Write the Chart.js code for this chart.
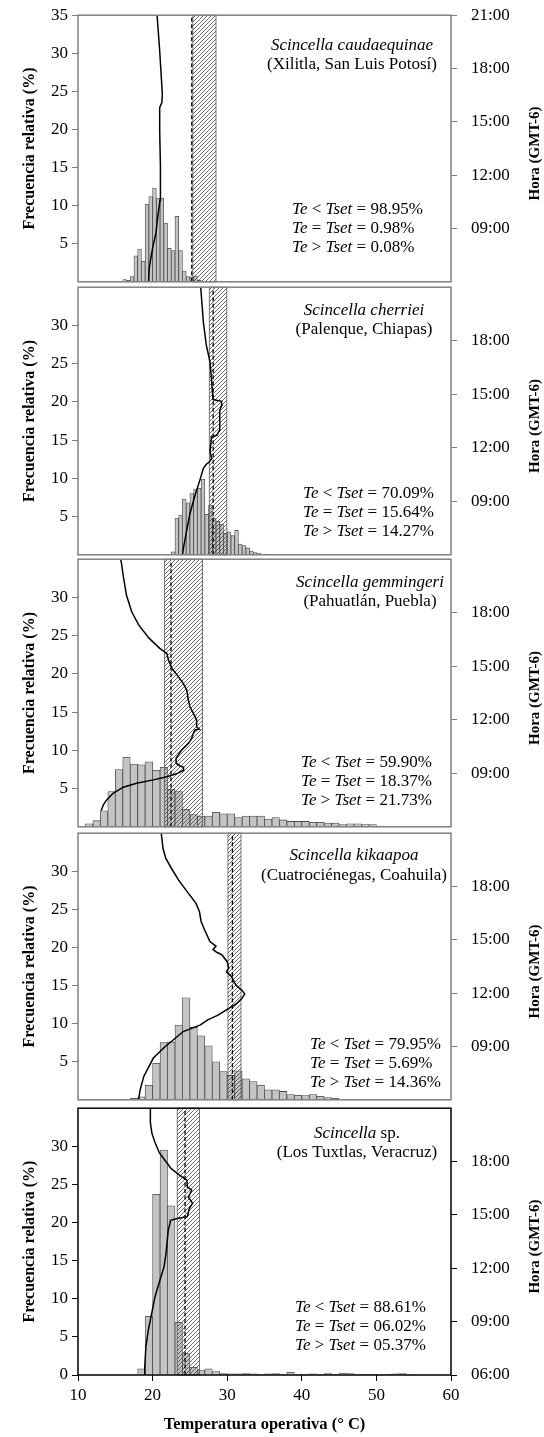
<!DOCTYPE html>
<html>
<head>
<meta charset="utf-8">
<script src="https://cdn.jsdelivr.net/npm/chart.js@4.4.0/dist/chart.umd.min.js"></script>
<style>
  body { margin: 0; background: #fff; }
  #wrap { position: relative; width: 544px; height: 1437px; overflow: hidden; }
  #wrap canvas { position: absolute; left: 0; }
</style>
</head>
<body>
<div id="wrap"></div>
<script>
// ---- data ----
const speciesNames = ['Scincella caudaequinae', 'Scincella cherriei', 'Scincella gemmingeri', 'Scincella kikaapoa', 'Scincella'];
const speciesSuffix = ['', '', '', '', ' sp.'];
const localities = ['(Xilitla, San Luis Potosí)', '(Palenque, Chiapas)', '(Pahuatlán, Puebla)', '(Cuatrociénegas, Coahuila)', '(Los Tuxtlas, Veracruz)'];
const teBelow = ['98.95%', '70.09%', '59.90%', '79.95%', '88.61%'];
const teEqual = ['0.98%', '15.64%', '18.37%', '5.69%', '06.02%'];
const teAbove = ['0.08%', '14.27%', '21.73%', '14.36%', '05.37%'];

// Tset range (hatched) and median (dashed), in deg C
const tsetLow = [25.4, 27.6, 21.6, 30.1, 23.3];
const tsetHigh = [28.5, 29.95, 26.7, 31.85, 26.3];
const tsetMedian = [25.25, 28.12, 22.47, 30.7, 24.35];

// histogram bins (left edge, deg C) and relative frequency (%)
const binWidth = [0.5, 0.5, 1, 1, 1];
const p1Bins = [16.0, 16.5, 17.0, 17.5, 18.0, 18.5, 19.0, 19.5, 20.0, 20.5, 21.0, 21.5, 22.0, 22.5, 23.0, 23.5, 24.0, 24.5, 25.0, 25.5, 26.0, 29.0];
const p1Freq = [0.3, 0.2, 0.7, 3.4, 4.3, 2.7, 10.2, 11.2, 12.3, 11.0, 11.0, 7.7, 4.4, 4.1, 8.6, 4.1, 1.4, 0.7, 0.65, 0.75, 0.2, 0.1];
const p2Bins = [22.5, 23.0, 23.5, 24.0, 24.5, 25.0, 25.5, 26.0, 26.5, 27.0, 27.5, 28.0, 28.5, 29.0, 29.5, 30.0, 30.5, 31.0, 31.5, 32.0, 32.5, 33.0, 33.5, 34.0, 34.5, 35.0, 35.5];
const p2Freq = [0.4, 4.8, 5.2, 7.3, 6.8, 8.0, 8.6, 8.7, 9.9, 5.3, 6.5, 4.8, 4.4, 4.0, 2.8, 3.0, 2.5, 3.2, 1.4, 1.2, 0.9, 0.5, 0.3, 0.15, 0.1, 0.1, 0.05];
const p3Bins = [11, 12, 13, 14, 15, 16, 17, 18, 19, 20, 21, 22, 23, 24, 25, 26, 27, 28, 29, 30, 31, 32, 33, 34, 35, 36, 37, 38, 39, 40, 41, 42, 43, 44, 45, 46, 47, 48, 49, 50];
const p3Freq = [0.4, 0.8, 2.1, 4.6, 7.5, 9.1, 8.2, 8.1, 8.5, 7.4, 7.8, 4.9, 4.6, 2.3, 1.6, 1.4, 1.4, 1.9, 1.7, 1.7, 1.2, 1.4, 1.4, 1.4, 1.0, 1.2, 0.9, 0.7, 0.7, 0.7, 0.6, 0.6, 0.5, 0.5, 0.3, 0.4, 0.4, 0.3, 0.3, 0.1];
const p4Bins = [17, 18, 19, 20, 21, 22, 23, 24, 25, 26, 27, 28, 29, 30, 31, 32, 33, 34, 35, 36, 37, 38, 39, 40, 41, 42, 43, 44];
const p4Freq = [0.2, 0.4, 1.9, 4.8, 7.5, 7.6, 9.8, 13.4, 9.5, 8.4, 7.1, 5.0, 3.7, 3.2, 3.8, 2.75, 2.4, 1.9, 1.3, 1.3, 1.1, 0.7, 0.6, 0.55, 0.7, 0.45, 0.3, 0.2];
const p5Bins = [18, 19, 20, 21, 22, 23, 24, 25, 26, 27, 28, 29, 30, 31, 32, 33, 34, 35, 36, 37, 38, 39, 40, 41, 42, 43, 44, 45, 46, 47, 48, 49, 50, 51, 52, 53, 54];
const p5Freq = [0.8, 7.7, 23.7, 29.5, 22.2, 6.9, 2.8, 1.0, 0.65, 0.8, 0.45, 0.2, 0.15, 0.15, 0.2, 0.15, 0.05, 0.15, 0.2, 0.1, 0.35, 0.1, 0.05, 0.15, 0.05, 0.2, 0.1, 0.25, 0.2, 0.05, 0.05, 0.05, 0.05, 0.02, 0.15, 0.2, 0.05];

// daily course of operative temperature (deg C) against hour of day
const p1Temp = [19.45, 19.55, 20.0, 20.45, 20.7, 21.0, 21.05, 20.95, 20.95, 21.25, 21.3, 20.95, 20.6];
const p1Hour = [6.0, 6.8, 7.9, 8.75, 9.7, 10.6, 12.5, 14.5, 15.8, 16.1, 16.6, 19.0, 21.0];
const p2Temp = [24.0, 24.1, 24.5, 25.0, 25.7, 26.35, 26.8, 27.25, 27.6, 27.9, 27.7, 27.9, 28.6, 29.0, 29.0, 29.3, 29.25, 28.1, 27.9, 27.7, 27.2, 26.8, 26.45];
const p2Hour = [6.0, 6.3, 7.2, 8.3, 9.35, 10.2, 10.85, 11.1, 11.2, 11.4, 11.8, 12.6, 12.7, 13.0, 14.1, 14.4, 14.6, 14.7, 15.8, 16.8, 17.75, 19.05, 21.0];
const p3Temp = [13.1, 13.4, 13.85, 14.7, 16.07, 17.85, 20.1, 21.9, 23.2, 24.1, 24.15, 23.67, 23.2, 23.15, 23.45, 23.9, 24.8, 25.24, 25.46, 25.68, 26.26, 25.9, 25.9, 25.46, 25.0, 24.8, 24.57, 24.1, 23.3, 22.6, 22.13, 21.9, 20.96, 19.55, 18.15, 17.2, 16.5, 16.05, 15.8, 15.7];
const p3Hour = [6.9, 7.23, 7.51, 7.88, 8.22, 8.44, 8.63, 8.81, 8.97, 9.15, 9.34, 9.41, 9.56, 9.84, 10.03, 10.3, 10.68, 10.96, 11.24, 11.43, 11.47, 11.61, 11.99, 12.36, 12.73, 13.1, 13.67, 14.04, 14.5, 14.88, 15.35, 15.72, 16.0, 16.56, 17.3, 18.05, 18.98, 20.1, 20.85, 21.0];
const p4Temp = [18.13, 18.3, 18.8, 20.1, 21.7, 23.0, 24.1, 26.35, 27.4, 28.7, 29.9, 31.3, 31.95, 32.35, 32.0, 31.16, 30.6, 29.9, 30.2, 30.0, 29.3, 28.6, 28.1, 28.5, 27.68, 26.98, 26.51, 26.28, 25.82, 24.65, 23.49, 22.56, 21.77, 21.4, 21.16];
const p4Hour = [6.0, 6.5, 7.3, 8.35, 9.0, 9.45, 9.84, 10.2, 10.5, 10.75, 11.06, 11.43, 11.7, 11.95, 12.15, 12.46, 12.93, 13.2, 13.4, 13.77, 14.15, 14.3, 14.45, 14.65, 14.9, 15.55, 16.02, 16.58, 17.05, 17.7, 18.36, 19.0, 19.58, 20.14, 21.0];
const p5Temp = [18.9, 18.95, 19.1, 19.43, 19.88, 20.32, 20.99, 21.53, 21.8, 21.97, 22.1, 22.33, 22.4, 23.31, 24.65, 24.92, 25.37, 24.8, 25.24, 24.65, 24.6, 23.9, 23.4, 22.5, 21.6, 20.9, 20.3, 19.9, 19.7, 19.7];
const p5Hour = [6.0, 6.47, 7.59, 8.53, 9.47, 10.4, 11.34, 12.08, 12.84, 13.58, 14.15, 14.52, 14.7, 14.8, 14.9, 15.36, 15.65, 16.0, 16.39, 16.58, 16.96, 17.15, 17.3, 17.6, 18.1, 18.5, 19.1, 19.6, 20.2, 21.0];

// ticks
const tempTicks = [10, 20, 30, 40, 50, 60];
const hourValues = [6, 9, 12, 15, 18, 21];
const hourLabels = ['06:00', '09:00', '12:00', '15:00', '18:00', '21:00'];
const freqTicks = [[5, 10, 15, 20, 25, 30, 35], [5, 10, 15, 20, 25, 30], [5, 10, 15, 20, 25, 30], [5, 10, 15, 20, 25, 30], [0, 5, 10, 15, 20, 25, 30]];
const hourTicks = [[9, 12, 15, 18, 21], [9, 12, 15, 18], [9, 12, 15, 18], [9, 12, 15, 18], [6, 9, 12, 15, 18]];

const bins = [p1Bins, p2Bins, p3Bins, p4Bins, p5Bins];
const freqs = [p1Freq, p2Freq, p3Freq, p4Freq, p5Freq];
const lineTemps = [p1Temp, p2Temp, p3Temp, p4Temp, p5Temp];
const lineHours = [p1Hour, p2Hour, p3Hour, p4Hour, p5Hour];

// ---- layout (page pixels) ----
const panelTop = [15, 287, 559, 833, 1108];
const panelBottom = [282, 555, 827, 1100, 1375];
const labelCx = [352, 364, 370, 354, 357];
const speciesY = [45, 310, 582, 855, 1133];
const localityY = [64, 329, 601, 875, 1152];
const statsX = [292, 303, 301, 310, 295];
const statsY = [209, 493, 762, 1044, 1307];

const FONT = "'Liberation Serif', 'Times New Roman', serif";
const TXT = 17;
Chart.defaults.font.family = FONT;
Chart.defaults.font.size = 17;
Chart.defaults.color = '#000';

const hatchTile = document.createElement('canvas');
hatchTile.width = 4; hatchTile.height = 4;
(() => {
  const g = hatchTile.getContext('2d');
  g.strokeStyle = '#3a3a3a';
  g.lineWidth = 0.75;
  g.beginPath();
  g.moveTo(0, 4); g.lineTo(4, 0);
  g.moveTo(-1, 1); g.lineTo(1, -1);
  g.moveTo(3, 5); g.lineTo(5, 3);
  g.stroke();
})();

function drawRuns(ctx, runs, x, y, align) {
  let w = 0;
  runs.forEach(([t, it]) => { ctx.font = (it ? 'italic ' : '') + TXT + 'px ' + FONT; w += ctx.measureText(t).width; });
  let cx = align === 'center' ? x - w / 2 : x;
  ctx.textAlign = 'left';
  runs.forEach(([t, it]) => {
    ctx.font = (it ? 'italic ' : '') + TXT + 'px ' + FONT;
    ctx.fillText(t, cx, y);
    cx += ctx.measureText(t).width;
  });
}

function decor(i, pos, axisColor) {
  return {
    id: 'decor' + i,
    beforeDatasetDraw(chart, args) {
      if (args.meta.type !== 'line') return;
      const { ctx, chartArea: a } = chart;
      const x = chart.scales.x;
      const x0 = x.getPixelForValue(tsetLow[i]);
      const x1 = x.getPixelForValue(tsetHigh[i]);
      ctx.save();
      ctx.fillStyle = ctx.createPattern(hatchTile, 'repeat');
      ctx.fillRect(x0, a.top, x1 - x0, a.bottom - a.top);
      ctx.strokeStyle = '#555';
      ctx.lineWidth = 0.8;
      ctx.strokeRect(x0, a.top, x1 - x0, a.bottom - a.top);
      const xm = x.getPixelForValue(tsetMedian[i]);
      ctx.setLineDash([4, 2.5]);
      ctx.strokeStyle = '#000';
      ctx.lineWidth = 1.3;
      ctx.beginPath();
      ctx.moveTo(xm, a.bottom);
      ctx.lineTo(xm, a.top);
      ctx.stroke();
      ctx.restore();
    },
    afterDraw(chart) {
      const { ctx, chartArea: a } = chart;
      const off = pos.top;
      ctx.save();
      // frame
      ctx.strokeStyle = axisColor;
      ctx.lineWidth = 1.5;
      ctx.strokeRect(a.left, a.top, a.right - a.left, a.bottom - a.top);

      ctx.fillStyle = '#000';
      ctx.textBaseline = 'middle';
      drawRuns(ctx, [[speciesNames[i], true], [speciesSuffix[i], false]], labelCx[i], speciesY[i] - off, 'center');
      drawRuns(ctx, [[localities[i], false]], labelCx[i], localityY[i] - off, 'center');
      const rows = [[' < ', teBelow[i]], [' = ', teEqual[i]], [' > ', teAbove[i]]];
      rows.forEach(([op, val], k) => {
        drawRuns(ctx, [['Te', true], [op, false], ['Tset', true], [' = ' + val, false]], statsX[i], statsY[i] - off + k * 19, 'left');
      });

      // axis titles
      const midY = (a.top + a.bottom) / 2;
      ctx.textAlign = 'center';
      ctx.save();
      ctx.font = 'bold 16px ' + FONT;
      ctx.translate(30, midY);
      ctx.rotate(-Math.PI / 2);
      ctx.fillText('Frecuencia relativa (%)', 0, 0);
      ctx.restore();
      ctx.save();
      ctx.font = 'bold 15px ' + FONT;
      ctx.translate(535, midY + 5);
      ctx.rotate(-Math.PI / 2);
      ctx.fillText('Hora (GMT-6)', 0, 0);
      ctx.restore();
      if (i === 4) {
        ctx.font = 'bold 16.5px ' + FONT;
        ctx.fillText('Temperatura operativa (° C)', (a.left + a.right) / 2, 1425 - off);
      }
      ctx.restore();
    }
  };
}

function buildPanel(cv, i, pos) {
  const isLast = i === 4;
  const axisColor = isLast ? '#000' : '#808080';
  return new Chart(cv, {
    type: 'bar',
    data: {
      datasets: [
        {
          type: 'line',
          data: lineTemps[i].map((t, k) => ({ x: t, y: lineHours[i][k] })),
          yAxisID: 'y2',
          borderColor: '#000',
          borderWidth: 1.5,
          pointRadius: 0,
          fill: false,
          tension: 0,
          order: 1
        },
        {
          type: 'bar',
          data: bins[i].map((b, k) => ({ x: b + binWidth[i] / 2, y: freqs[i][k] })),
          yAxisID: 'y',
          backgroundColor: '#c4c4c4',
          borderColor: '#4a4a4a',
          borderWidth: 0.8,
          barPercentage: 1,
          categoryPercentage: 1,
          order: 2
        }
      ]
    },
    options: {
      responsive: false,
      maintainAspectRatio: false,
      animation: false,
      layout: { padding: { top: 10, bottom: isLast ? 0 : 10, left: 0, right: 0 } },
      plugins: { legend: { display: false }, tooltip: { enabled: false } },
      scales: {
        x: {
          type: 'linear',
          min: 10,
          max: 60,
          offset: false,
          display: isLast,
          afterBuildTicks: s => { s.ticks = tempTicks.map(v => ({ value: v })); },
          afterFit: s => { if (isLast) s.height = 62; },
          grid: { offset: false, drawOnChartArea: false, tickLength: 6, color: axisColor },
          border: { display: false },
          ticks: { padding: 4, autoSkip: false, maxRotation: 0 }
        },
        y: {
          position: 'left',
          min: 0,
          max: 35,
          afterBuildTicks: s => { s.ticks = freqTicks[i].map(v => ({ value: v })); },
          afterFit: s => { s.width = 78; },
          grid: { drawOnChartArea: false, tickLength: 6, color: axisColor },
          border: { display: false },
          ticks: { padding: 4, autoSkip: false }
        },
        y2: {
          position: 'right',
          min: 6,
          max: 21,
          afterBuildTicks: s => { s.ticks = hourTicks[i].map(v => ({ value: v })); },
          afterFit: s => { s.width = 93; },
          grid: { drawOnChartArea: false, tickLength: 6, color: axisColor },
          border: { display: false },
          ticks: { padding: 14, autoSkip: false, callback: v => hourLabels[hourValues.indexOf(v)] }
        }
      }
    },
    plugins: [decor(i, pos, axisColor)]
  });
}

const wrap = document.getElementById('wrap');

for (let i = 0; i < 5; i++) {
  // first pass: measure the plot-area offsets inside a trial canvas
  const trialH = 320;
  const cv = document.createElement('canvas');
  cv.width = 544;
  cv.height = trialH;
  cv.style.top = '0px';
  wrap.appendChild(cv);
  const pos = { top: 0 };
  let chart = buildPanel(cv, i, pos);
  const topOff = chart.chartArea.top;
  const botOff = trialH - chart.chartArea.bottom;
  chart.destroy();

  // second pass: size the canvas so the plot area lands on the panel box
  const h = Math.round(topOff + (panelBottom[i] - panelTop[i]) + botOff);
  pos.top = panelTop[i] - topOff;
  cv.width = 544;
  cv.height = h;
  cv.style.width = '544px';
  cv.style.height = h + 'px';
  cv.style.top = pos.top + 'px';
  buildPanel(cv, i, pos);
}
</script>
</body>
</html>
